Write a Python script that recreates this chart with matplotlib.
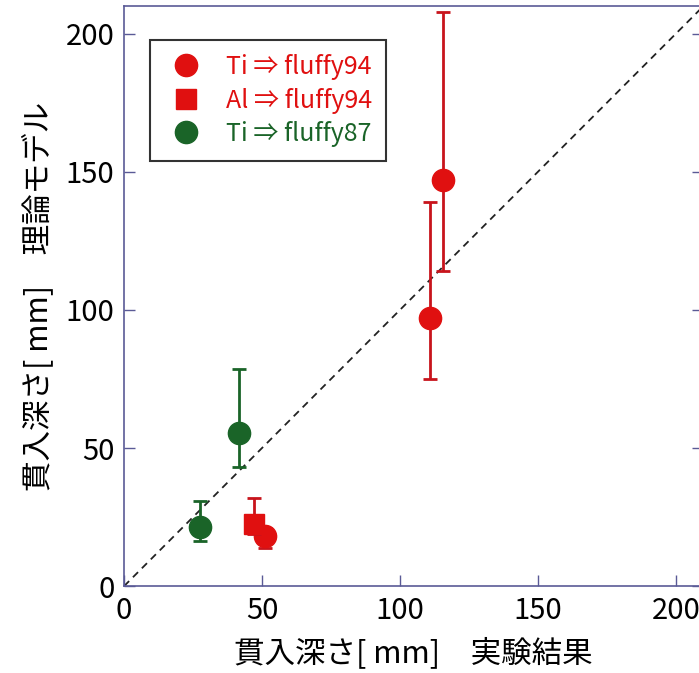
import matplotlib.pyplot as plt
from matplotlib.lines import Line2D

plt.rcParams['font.family'] = ['Noto Sans CJK JP', 'DejaVu Sans']

# Ti => fluffy94
ti94_x = [51, 111, 115.5]
ti94_y = [18, 97, 147]
ti94_lo = [14, 75, 114]
ti94_hi = [21, 139, 208]

# Al => fluffy94
al94_x = [47]
al94_y = [22.5]
al94_lo = [19]
al94_hi = [32]

# Ti => fluffy87
ti87_x = [27.5, 41.5]
ti87_y = [21.5, 55.5]
ti87_lo = [16.5, 43]
ti87_hi = [31, 78.5]

ticks = [0, 50, 100, 150, 200]

red = '#e01010'
red_bar = '#c8141c'
green = '#1a6428'
spine = '#5a5a96'

def err(y, lo, hi):
    return [[a - b for a, b in zip(y, lo)], [b - a for a, b in zip(y, hi)]]

fig = plt.figure(figsize=(6.99, 6.73), dpi=100)
ax = fig.add_axes([0.1774, 0.129, 0.829, 0.862])

ax.plot([0, 210], [0, 210], ls=(0, (4, 3)), color='#222222', lw=1.3, zorder=1)

ax.errorbar(ti87_x, ti87_y, yerr=err(ti87_y, ti87_lo, ti87_hi), fmt='o', ms=16,
            color=green, ecolor=green, elinewidth=2, capsize=5, capthick=2, zorder=3)
ax.errorbar(ti94_x, ti94_y, yerr=err(ti94_y, ti94_lo, ti94_hi), fmt='o', ms=16,
            color=red, ecolor=red_bar, elinewidth=2, capsize=5, capthick=2, zorder=3)
ax.errorbar(al94_x, al94_y, yerr=err(al94_y, al94_lo, al94_hi), fmt='s', ms=14,
            color=red, ecolor=red_bar, elinewidth=2, capsize=5, capthick=2, zorder=4)

ax.set_xlim(0, 210)
ax.set_ylim(0, 210)
ax.set_xticks(ticks)
ax.set_yticks(ticks)
ax.tick_params(direction='in', length=8, width=1, color=spine, labelsize=21,
               top=False, right=True, pad=7)
for s in ax.spines.values():
    s.set_color(spine)
    s.set_linewidth(1.2)

ax.set_xlabel('貫入深さ[ mm]\u3000実験結果', fontsize=22, labelpad=8)
ax.set_ylabel('貫入深さ[ mm]\u3000理論モデル', fontsize=22, labelpad=8)

handles = [
    Line2D([], [], ls='none', marker='o', ms=16, color=red),
    Line2D([], [], ls='none', marker='s', ms=14, color=red),
    Line2D([], [], ls='none', marker='o', ms=16, color=green),
]
labels = ['Ti ⇒ fluffy94', 'Al ⇒ fluffy94', 'Ti ⇒ fluffy87']
leg = ax.legend(handles, labels, loc='upper left', bbox_to_anchor=(0.045, 0.941),
                borderaxespad=0, fontsize=18, frameon=True, fancybox=False,
                edgecolor='black', handletextpad=0.7, borderpad=0.55,
                labelspacing=0.3, handlelength=1.8)
leg.get_frame().set_linewidth(1.5)
for t, c in zip(leg.get_texts(), [red, red, green]):
    t.set_color(c)

fig.savefig('out.png', dpi=100)
